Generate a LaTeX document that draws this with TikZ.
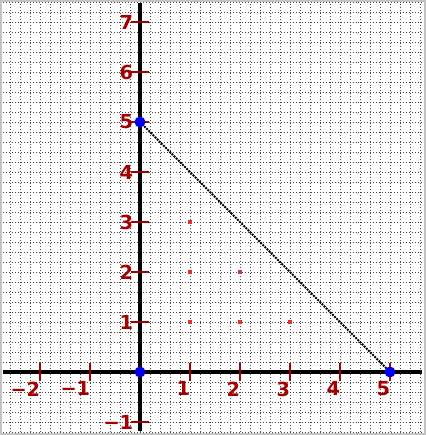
\documentclass[tikz,border=0pt]{standalone}
\usepackage{fontspec}
\setmainfont{DejaVu Sans}
\definecolor{tickred}{RGB}{165,0,0}
\definecolor{ptred}{RGB}{225,50,50}
\definecolor{ptblue}{RGB}{0,0,235}
\definecolor{gridgray}{RGB}{70,70,70}
\definecolor{framegray}{RGB}{195,195,195}
\begin{document}
\begin{tikzpicture}[x=1cm,y=1cm,
  gridline/.style={gridgray, line width=0.5pt, dash pattern=on 0.55pt off 1.15pt},
  axisline/.style={black, line width=2.1pt},
  tickline/.style={tickred, line width=0.9pt},
  ticklabel/.style={tickred, inner sep=0pt, font=\bfseries\fontsize{11}{12}\selectfont},
  diagline/.style={black, line width=1.1pt, dash pattern=on 1.1pt off 0.6pt},
  bluept/.style={circle, fill=ptblue, minimum size=0.22cm, inner sep=0pt},
  redpt/.style={rectangle, fill=ptred, minimum size=0.08cm, inner sep=0pt}]
\useasboundingbox (-2.8,-1.26) rectangle (5.72,7.44);
\fill[white] (-2.8,-1.26) rectangle (5.72,7.44);
% grid
\draw[gridline] (-2.8,-1.26) grid[step=0.2] (5.72,7.44);
% frame
\draw[framegray, line width=1.2pt] (-2.78,-1.24) rectangle (5.70,7.42);
% axes
\coordinate (xl) at (-2.74,0);
\coordinate (xr) at (5.64,0);
\coordinate (yb) at (0,-1.18);
\coordinate (yt) at (0,7.38);
\draw[axisline] (xl) -- (xr);
\draw[axisline] (yb) -- (yt);
% x ticks and labels
\foreach \v/\t in {-2/−2,-1/−1,1/1,2/2,3/3,4/4,5/5}{
  \draw[tickline] (\v,0.18) -- (\v,-0.18);
  \node[ticklabel, anchor=north east] (xlab\v) at (\v+0.01,-0.19) {\t};
}
% y ticks and labels
\foreach \v/\t in {-1/−1,1/1,2/2,3/3,4/4,5/5,6/6,7/7}{
  \draw[tickline] (-0.18,\v) -- (0.17,\v);
  \node[ticklabel, anchor=east] (ylab\v) at (-0.13,\v) {\t};
}
% triangle vertices and hypotenuse
\coordinate (O) at (0,0);
\coordinate (B) at (0,5);
\coordinate (C) at (5,0);
\draw[diagline] (B) -- (C);
% lattice points
\node[redpt] (p11) at (1,1) {};
\node[redpt] (p21) at (2,1) {};
\node[redpt] (p31) at (3,1) {};
\node[redpt] (p12) at (1,2) {};
\node[redpt] (p22) at (2,2) {};
\node[redpt] (p13) at (1,3) {};
% vertices
\node[bluept] (vO) at (O) {};
\node[bluept] (vB) at (B) {};
\node[bluept] (vC) at (C) {};
\end{tikzpicture}
\end{document}
